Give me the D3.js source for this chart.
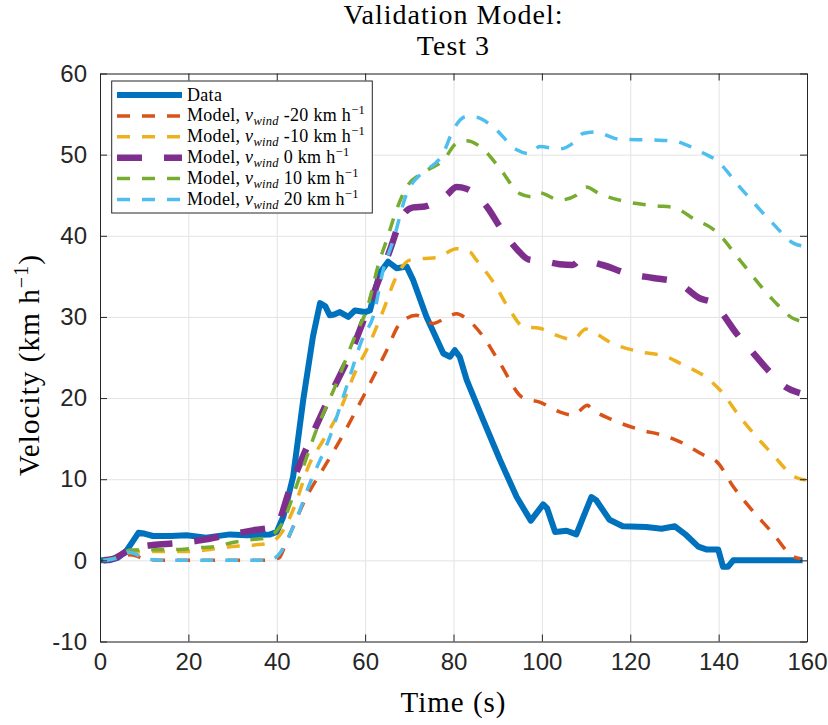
<!DOCTYPE html>
<html><head><meta charset="utf-8">
<script src="https://cdn.jsdelivr.net/npm/d3@7"></script>
<style>body{margin:0;background:#fff}</style>
</head><body>
<svg id="chart" width="828" height="725"></svg>
<script>
// ---------- data ----------
const titleLines = ["Validation Model:", "Test 3"];
const xLabel = "Time (s)";
const xTicks = [0, 20, 40, 60, 80, 100, 120, 140, 160];
const yTicks = [-10, 0, 10, 20, 30, 40, 50, 60];
const windSpeeds = [-20, -10, 0, 10, 20];

const dataT = [0, 2, 4, 6, 7.5, 8.7, 10, 12, 16, 19.6, 24, 29.4, 33.2, 38.5, 40, 41.5, 43.7, 46, 48.2, 49.8, 51, 52, 53, 54.3, 56.2, 57.7, 60, 61.1, 63.3, 65.2, 67.1, 69.4, 70.9, 73.9, 77.7, 79.2, 80.3, 81.4, 83, 86.7, 90.5, 94.3, 97.5, 100.3, 101.2, 103, 105.6, 107.8, 109.5, 111.2, 112.3, 115.3, 118.3, 123.6, 127.1, 130.1, 132.7, 135.4, 137.2, 139.9, 141, 142.1, 143.3, 159];
const dataV = [0, 0, 0.3, 1.2, 2.4, 3.4, 3.3, 3.0, 3.0, 3.1, 2.8, 3.2, 3.1, 3.2, 3.5, 5.4, 10.3, 19.8, 27.6, 31.7, 31.3, 30.2, 30.3, 30.6, 30.0, 30.8, 30.6, 30.8, 35.4, 36.8, 36.0, 36.2, 34.5, 30.0, 25.5, 25.1, 25.9, 25.1, 22.2, 17.3, 12.4, 7.8, 4.9, 6.9, 6.4, 3.5, 3.65, 3.2, 5.5, 7.8, 7.4, 5.0, 4.2, 4.1, 3.9, 4.2, 3.1, 1.7, 1.35, 1.35, -0.8, -0.8, 0, 0];

const m20nT = [0.8, 4, 7, 10, 15, 20, 30, 38, 40.5, 42, 44, 46, 51.3, 54.3, 59.6, 64.9, 67.9, 71.6, 75.4, 78, 80.7, 82.9, 86.7, 90.5, 95.8, 99.5, 104, 107, 110.4, 111, 116.1, 122.2, 127.4, 130.5, 137.2, 139.5, 143.3, 152.3, 156.9, 158.6];
const m20nV = [0, 0.2, 0.7, 0.2, 0, 0, 0, 0, 0.3, 2.0, 4.5, 7.0, 12, 14.8, 20.2, 25.9, 29.2, 30.2, 29.2, 29.8, 30.4, 29.8, 27.6, 24.3, 20.0, 19.5, 18.3, 17.9, 19.1, 18.8, 17.3, 16.1, 15.4, 14.8, 12.8, 12.2, 9.1, 3.3, 0.45, 0.2];

const m10nT = [0.8, 4, 7, 12, 16, 20, 25, 30, 35, 38, 40.7, 43.7, 47.5, 50.5, 54.3, 58, 60.3, 64.1, 67.1, 70.1, 73, 76.2, 80.7, 83.7, 85.2, 89, 92.8, 95.8, 99.5, 104, 107, 110, 111, 116.1, 122.2, 128.2, 131.2, 138, 140.3, 144.8, 152.3, 157.2, 159.7];
const m10nV = [0, 0.3, 1.0, 1.1, 1.1, 1.1, 1.35, 1.7, 1.9, 2.1, 3.1, 6.2, 12, 14.8, 18.5, 23.5, 25.9, 30.8, 35.0, 37.0, 37.2, 37.3, 38.4, 38.0, 37.0, 34.3, 30.8, 28.8, 28.6, 27.6, 27.2, 28.5, 28.3, 26.7, 25.7, 25.1, 24.3, 22.2, 21.0, 17.7, 13.0, 10.3, 9.9];

const m0T = [0.8, 3, 5.3, 7, 12, 17, 23, 28.7, 34.6, 39, 40, 42.9, 47.5, 52, 57.3, 61.1, 65.6, 68.6, 70.9, 73.5, 76, 78.4, 80.7, 82.9, 87.8, 90.5, 94.6, 96.9, 100, 104, 107, 108.6, 113.8, 119.1, 125.2, 130.5, 135.7, 138.8, 140.3, 144, 147, 151.6, 155, 158.4];
const m0V = [0, 0.2, 0.86, 1.4, 1.9, 2.1, 2.5, 3.1, 3.7, 4.1, 4.35, 8.7, 14.8, 20.2, 26.3, 31.7, 38.2, 42.6, 43.5, 43.6, 44.2, 45.0, 46.0, 45.8, 43.4, 41.1, 38.2, 37.1, 36.9, 36.5, 36.4, 37.0, 36.4, 35.4, 34.8, 34.3, 32.3, 31.7, 30.8, 28.0, 26.1, 23.2, 21.4, 20.6];

const m10pT = [0.8, 4, 6.8, 12, 18, 23.4, 26, 30, 35, 37, 40.7, 45.2, 49, 53.5, 58, 60.3, 63.3, 64.9, 67.1, 69.4, 73.5, 77.7, 80.7, 82.9, 86, 90.5, 95, 98, 99.5, 104, 107.8, 110, 113, 119.1, 125.9, 129.7, 135, 138, 139.5, 144.8, 152.3, 156.9, 159.7];
const m10pV = [0, 0.4, 1.27, 1.3, 1.35, 1.6, 1.7, 2.2, 2.6, 2.7, 4.1, 10.3, 16.1, 21.8, 28.0, 30.8, 37.0, 39.5, 43.2, 46.0, 47.9, 49.3, 51.4, 51.7, 51.0, 48.3, 45.2, 44.8, 45.3, 44.4, 45.0, 46.0, 45.2, 44.2, 43.7, 43.5, 41.9, 41.1, 40.5, 37.0, 32.1, 29.8, 29.4];

const m20pT = [0.8, 4, 6.4, 8, 10, 15, 20, 30, 38, 40, 43.7, 47.5, 52, 55.8, 59.6, 61.8, 64.1, 66.4, 69.4, 72.4, 73.9, 77.7, 79.9, 82.9, 85.2, 89, 94.3, 97.3, 99.5, 104, 107, 109.3, 111.9, 117.6, 125.2, 129.7, 132.7, 136.5, 139.5, 144.8, 152.3, 156.9, 159.7];
const m20pV = [0, 0.3, 1.0, 0.8, 0.2, 0, 0, 0, 0, 0.45, 4.1, 9.5, 15.2, 21.4, 27.6, 30.0, 35.8, 39.5, 45.2, 47.5, 48.1, 50.2, 53.0, 54.7, 54.6, 53.4, 50.6, 50.1, 51.0, 50.7, 51.4, 52.6, 52.8, 51.9, 51.8, 51.7, 51.2, 50.2, 49.3, 46.0, 41.5, 39.1, 38.7];

// ---------- styling ----------
const colors = ["#0072BD", "#D95319", "#EDB120", "#7E2F8E", "#77AC30", "#4DBEEE"];
const axisColor = "#262626";
const L = 100, R = 807, T = 73.5, B = 641.5;

const series = [
  {label: "Data", t: dataT, v: dataV, color: colors[0], w: 6, dash: null, curve: d3.curveLinear},
  {wind: windSpeeds[0], t: m20nT, v: m20nV, color: colors[1], w: 3.5, dash: "13,12", curve: d3.curveMonotoneX},
  {wind: windSpeeds[1], t: m10nT, v: m10nV, color: colors[2], w: 3.5, dash: "13,12", curve: d3.curveMonotoneX},
  {wind: windSpeeds[2], t: m0T, v: m0V, color: colors[3], w: 6.5, dash: "25,22", curve: d3.curveMonotoneX},
  {wind: windSpeeds[3], t: m10pT, v: m10pV, color: colors[4], w: 3.5, dash: "13,12", curve: d3.curveMonotoneX},
  {wind: windSpeeds[4], t: m20pT, v: m20pV, color: colors[5], w: 3.5, dash: "13,12", curve: d3.curveMonotoneX}
];

const svg = d3.select("#chart");
svg.append("rect").attr("width", 828).attr("height", 725).attr("fill", "#fff");

const x = d3.scaleLinear().domain([0, 160]).range([L, R]);
const y = d3.scaleLinear().domain([-10, 60]).range([B, T]);

// grid
svg.append("g").attr("transform", `translate(0,${B})`)
  .call(d3.axisBottom(x).tickValues(xTicks).tickSize(-(B - T)).tickFormat(""))
  .call(g => { g.select(".domain").remove(); g.selectAll("line").attr("stroke", "#e3e3e3").attr("stroke-width", 1); });
svg.append("g").attr("transform", `translate(${L},0)`)
  .call(d3.axisLeft(y).tickValues(yTicks).tickSize(-(R - L)).tickFormat(""))
  .call(g => { g.select(".domain").remove(); g.selectAll("line").attr("stroke", "#e3e3e3").attr("stroke-width", 1); });

// lines
svg.append("clipPath").attr("id", "clip").append("rect")
  .attr("x", L).attr("y", T).attr("width", R - L).attr("height", B - T);
const plot = svg.append("g").attr("clip-path", "url(#clip)");
series.forEach(s => {
  const pts = s.t.map((t, i) => [t, s.v[i]]);
  const line = d3.line().x(d => x(d[0])).y(d => y(d[1])).curve(s.curve);
  plot.append("path").datum(pts)
    .attr("d", line)
    .attr("fill", "none")
    .attr("stroke", s.color)
    .attr("stroke-width", s.w)
    .attr("stroke-linejoin", "round")
    .attr("stroke-dasharray", s.dash);
});

// axes
const tickFont = "'Liberation Sans', Arial, Helvetica, sans-serif";
const fmt = d => String(d);
function styleAxis(g) {
  g.select(".domain").attr("stroke", axisColor).attr("stroke-width", 1);
  g.selectAll(".tick line").attr("stroke", axisColor).attr("stroke-width", 1);
  g.selectAll(".tick text").attr("fill", axisColor).style("font-family", tickFont).style("font-size", "24px");
}
svg.append("g").attr("transform", `translate(0,${B})`)
  .call(d3.axisBottom(x).tickValues(xTicks).tickSize(-7).tickSizeOuter(0).tickPadding(11.5).tickFormat(fmt))
  .call(styleAxis);
svg.append("g").attr("transform", `translate(0,${T})`)
  .call(d3.axisTop(x).tickValues(xTicks).tickSize(-7).tickSizeOuter(0).tickFormat(""))
  .call(styleAxis);
svg.append("g").attr("transform", `translate(${L},0)`)
  .call(d3.axisLeft(y).tickValues(yTicks).tickSize(-7).tickSizeOuter(0).tickPadding(13).tickFormat(fmt))
  .call(styleAxis);
svg.append("g").attr("transform", `translate(${R},0)`)
  .call(d3.axisRight(y).tickValues(yTicks).tickSize(-7).tickSizeOuter(0).tickFormat(""))
  .call(styleAxis);

// titles
const serif = "'Liberation Serif', 'Times New Roman', serif";
const cx = (L + R) / 2;
svg.selectAll(".title").data(titleLines).enter().append("text")
  .attr("class", "title")
  .attr("x", cx).attr("y", (d, i) => 23.5 + i * 31.5)
  .attr("text-anchor", "middle")
  .style("font-family", serif).style("font-size", "28px").style("letter-spacing", "1px")
  .attr("fill", "#000").text(d => d);

svg.append("text").attr("x", cx).attr("y", 712)
  .attr("text-anchor", "middle")
  .style("font-family", serif).style("font-size", "29px").style("letter-spacing", "1px")
  .attr("fill", "#000").text(xLabel);

const yl = svg.append("text")
  .attr("transform", "translate(39,365) rotate(-90)")
  .attr("text-anchor", "middle")
  .style("font-family", serif).style("font-size", "29px").style("letter-spacing", "1.1px")
  .attr("fill", "#000");
yl.append("tspan").text("Velocity (km h");
yl.append("tspan").attr("dy", -11).style("font-size", "20px").text("\u22121");
yl.append("tspan").attr("dy", 11).text(")");

// legend
const lg = svg.append("g");
const lgX = 111.7, lgY = 81, lgW = 260.6, lgH = 132;
lg.append("rect").attr("x", lgX).attr("y", lgY).attr("width", lgW).attr("height", lgH)
  .attr("fill", "#fff").attr("stroke", axisColor).attr("stroke-width", 1);
series.forEach((s, i) => {
  const cy = 95 + i * 20.9;
  lg.append("line").attr("x1", 117).attr("x2", 182).attr("y1", cy).attr("y2", cy)
    .attr("stroke", s.color).attr("stroke-width", s.w).attr("stroke-dasharray", s.dash);
  const tx = lg.append("text").attr("x", 187).attr("y", cy + 5.5)
    .style("font-family", serif).style("font-size", "18px").style("letter-spacing", "0.3px")
    .attr("fill", "#000");
  if (s.label) { tx.text(s.label); return; }
  tx.append("tspan").text("Model, ");
  tx.append("tspan").style("font-style", "italic").text("v");
  tx.append("tspan").attr("dy", 4).style("font-style", "italic").style("font-size", "12.5px").text("wind");
  tx.append("tspan").attr("dy", -4).text(" " + s.wind + " km h");
  tx.append("tspan").attr("dy", -7).style("font-size", "12.5px").text("\u22121");
  tx.append("tspan").attr("dy", 7).text("");
});
</script>
</body></html>
